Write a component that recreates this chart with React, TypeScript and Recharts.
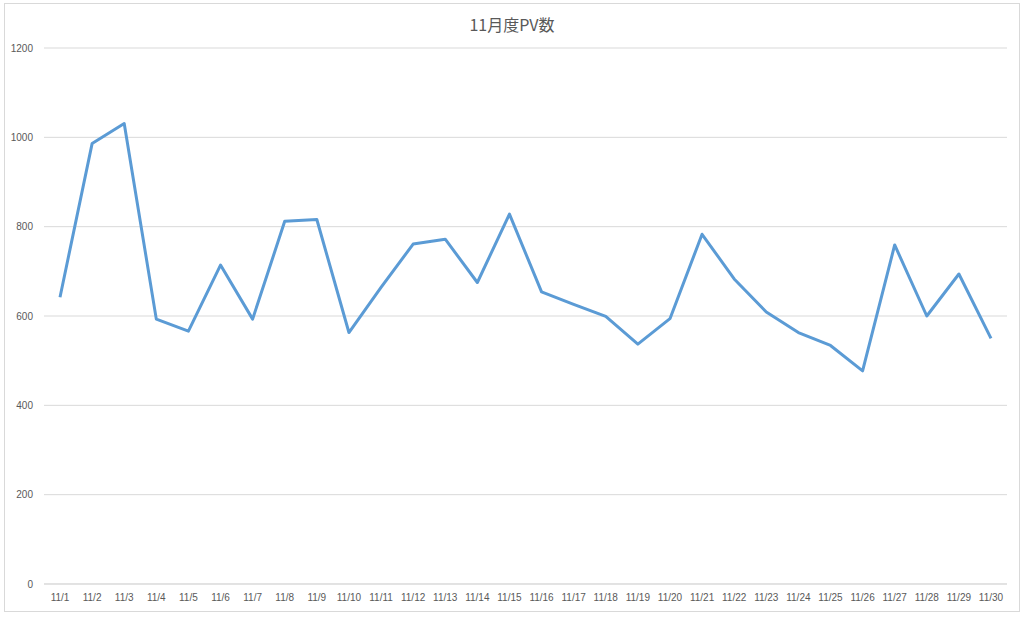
import { LineChart, Line, XAxis, YAxis, CartesianGrid } from "recharts"

const days = [
  "11/1", "11/2", "11/3", "11/4", "11/5", "11/6", "11/7", "11/8", "11/9", "11/10",
  "11/11", "11/12", "11/13", "11/14", "11/15", "11/16", "11/17", "11/18", "11/19", "11/20",
  "11/21", "11/22", "11/23", "11/24", "11/25", "11/26", "11/27", "11/28", "11/29", "11/30",
]

const pageViews = [
  642, 986, 1031, 593, 566, 714, 593, 812, 816, 563,
  664, 761, 772, 675, 828, 654, 626, 599, 537, 594,
  783, 683, 609, 563, 534, 477, 759, 600, 694, 550,
]

const yTicks = [0, 200, 400, 600, 800, 1000, 1200]

// tick marks sit between categories, so they come from a second numeric axis
const edgeTicks = Array.from({ length: days.length + 1 }, (_, i) => i)

const data = days.map((day, i) => ({ day, pv: pageViews[i] }))

const gridColor = "#D9D9D9"
const textColor = "#595959"
const font = "'Liberation Sans', Arial, sans-serif"

export default function App() {
  return (
    <div style={{ position: "absolute", left: 0, top: 0, width: 1024, height: 617, background: "#fff" }}>
      <div
        style={{
          position: "absolute",
          left: 4,
          top: 3,
          width: 1016,
          height: 609,
          border: `1px solid ${gridColor}`,
          boxSizing: "border-box",
        }}
      />
      <div
        style={{
          position: "absolute",
          left: 0,
          top: 14,
          width: 1024,
          textAlign: "center",
          fontSize: 16,
          lineHeight: "20px",
          color: textColor,
          fontFamily: "'Noto Sans CJK JP', 'Noto Sans', sans-serif",
        }}
      >
        11月度PV数
      </div>
      <div style={{ position: "absolute", left: 0, top: 0 }}>
        <LineChart
          width={1024}
          height={617}
          data={data}
          margin={{ top: 48, right: 17, left: 0, bottom: 0 }}
        >
          <CartesianGrid vertical={false} stroke={gridColor} strokeWidth={1} />
          <XAxis
            xAxisId="edges"
            type="number"
            domain={[0, days.length]}
            allowDataOverflow
            ticks={edgeTicks}
            tick={false}
            axisLine={false}
            tickLine={{ stroke: gridColor }}
            tickSize={5}
            height={0}
          />
          <XAxis
            dataKey="day"
            interval={0}
            padding={{ left: 16, right: 16 }}
            axisLine={{ stroke: gridColor }}
            tickLine={false}
            tickSize={0}
            tickMargin={10}
            height={33}
            tick={{ fill: textColor, fontSize: 10, fontFamily: font }}
          />
          <YAxis
            width={44}
            domain={[0, 1200]}
            ticks={yTicks}
            axisLine={false}
            tickLine={false}
            tickSize={0}
            tickMargin={11}
            tick={{ fill: textColor, fontSize: 10, fontFamily: font }}
          />
          <Line
            type="linear"
            dataKey="pv"
            stroke="#5B9BD5"
            strokeWidth={3}
            strokeLinejoin="round"
            dot={false}
            activeDot={false}
            isAnimationActive={false}
          />
        </LineChart>
      </div>
    </div>
  )
}
